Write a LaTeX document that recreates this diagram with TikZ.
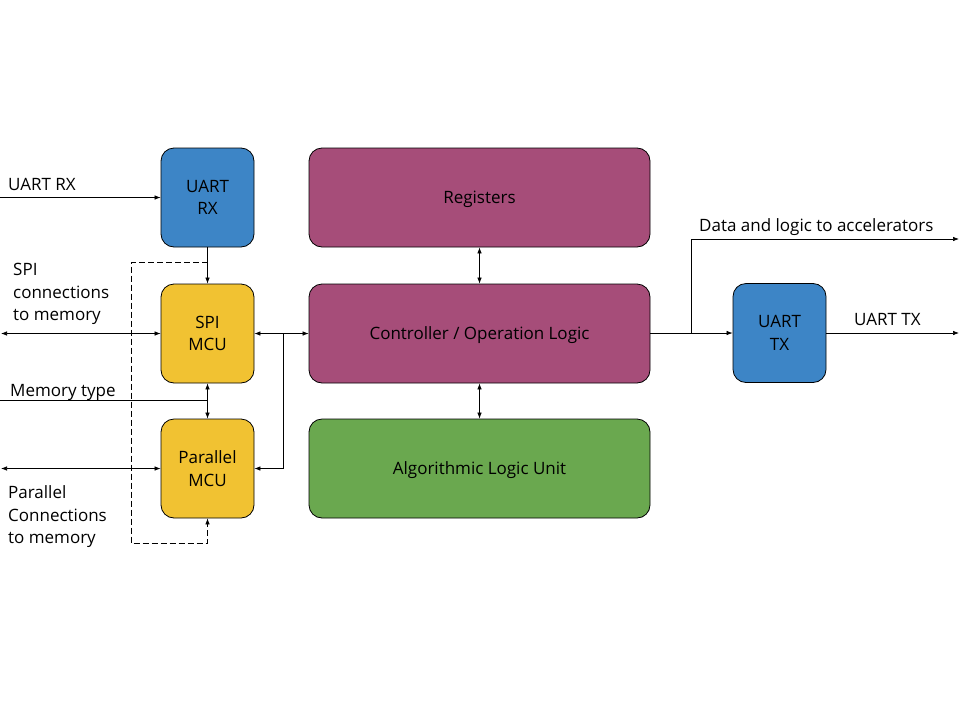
\documentclass[tikz,border=0pt]{standalone}
\usepackage{fontspec}
\setmainfont{Open Sans}
\usetikzlibrary{arrows.meta}
\definecolor{uartblue}{HTML}{3D85C6}
\definecolor{mcuyellow}{HTML}{F1C232}
\definecolor{ctrlmaroon}{HTML}{A64D79}
\definecolor{alugreen}{HTML}{6AA84F}
\tikzset{
	block/.style = {draw = black, line width = 0.8pt, rounded corners = 13pt, align = center,
		minimum width = 93pt, minimum height = 99pt, inner sep = 0pt},
	wide/.style = {block, minimum width = 341pt, text depth = 0pt},
	lbl/.style = {anchor = base west, inner sep = 0pt},
	mlbl/.style = {anchor = west, align = left, inner sep = 0pt},
	arr/.style = {-{Latex[length=6pt,width=4.5pt]}, line width = 0.7pt},
	dbl/.style = {{Latex[length=6pt,width=4.5pt]}-{Latex[length=6pt,width=4.5pt]}, line width = 0.7pt}
}
\begin{document}
\begin{tikzpicture}[x = 1pt, y = -1pt, font = \fontsize{17}{22.5}\selectfont]
	\useasboundingbox (0,0) rectangle (960,720);
	% left column
	\node[block, fill = uartblue] (rx) at (207.5, 197.5) {UART\\RX};
	\node[block, fill = mcuyellow] (spi) at (207.5, 333.5) {SPI\\MCU};
	\node[block, fill = mcuyellow] (par) at (207.5, 468.5) {Parallel\\MCU};
	% middle column
	\node[wide, fill = ctrlmaroon] (reg) at (479.5, 197.5) {Registers};
	\node[wide, fill = ctrlmaroon] (ctrl) at (479.5, 333.5) {Controller / Operation Logic};
	\node[wide, fill = alugreen] (alu) at (479.5, 468.5) {Algorithmic Logic Unit};
	% right
	\node[block, fill = uartblue] (tx) at (779.5, 333) {UART\\TX};
	% labels
	\node[lbl] (rxlbl) at (8, 190) {UART RX};
	\node[mlbl] (spilbl) at (13, 294) {SPI\\connections\\to memory};
	\node[lbl] (memlbl) at (10, 396) {Memory type};
	\node[mlbl] (parlbl) at (8, 517) {Parallel\\Connections\\to memory};
	\node[lbl] (acclbl) at (699, 231.5) {Data and logic to accelerators};
	\node[lbl] (txlbl) at (854, 325) {UART TX};
	% free ends
	\coordinate (rxin) at (0, 197.5);
	\coordinate (spiin) at (1, 333.5);
	\coordinate (memin) at (0, 400);
	\coordinate (parin) at (1, 468.5);
	\coordinate (accout) at (959, 239);
	\coordinate (txout) at (959, 333);
	\coordinate (dtop) at (207.5, 262);
	\coordinate (memjoin) at (207.5, 400);
	\coordinate (bus) at (283, 333.5);
	\coordinate (fork) at (691, 333);
	%inputs
	\draw[arr] (rxin) -- (rx.west);
	\draw[dbl] (spiin) -- (spi.west);
	\draw[dbl] (parin) -- (par.west);
	\draw[line width = 0.7pt] (memin) -- (memjoin);
	\draw[arr] (memjoin) -- (spi.south);
	\draw[arr] (memjoin) -- (par.north);
	\draw[arr] (rx.south) -- (spi.north);
	%dashed loop
	\draw[arr, dash pattern = on 6pt off 3pt] (dtop) -- (131, 262) -- (131, 543) -| (par.south);
	%bus to controller
	\draw[dbl] (spi.east) -- (ctrl.west);
	\draw[arr] (bus) |- (par.east);
	\draw[dbl] (reg.south) -- (ctrl.north);
	\draw[dbl] (ctrl.south) -- (alu.north);
	%outputs
	\draw[arr] (ctrl.east |- fork) -- (tx.west);
	\draw[arr] (fork) |- (accout);
	\draw[arr] (tx.east) -- (txout);
\end{tikzpicture}
\end{document}
